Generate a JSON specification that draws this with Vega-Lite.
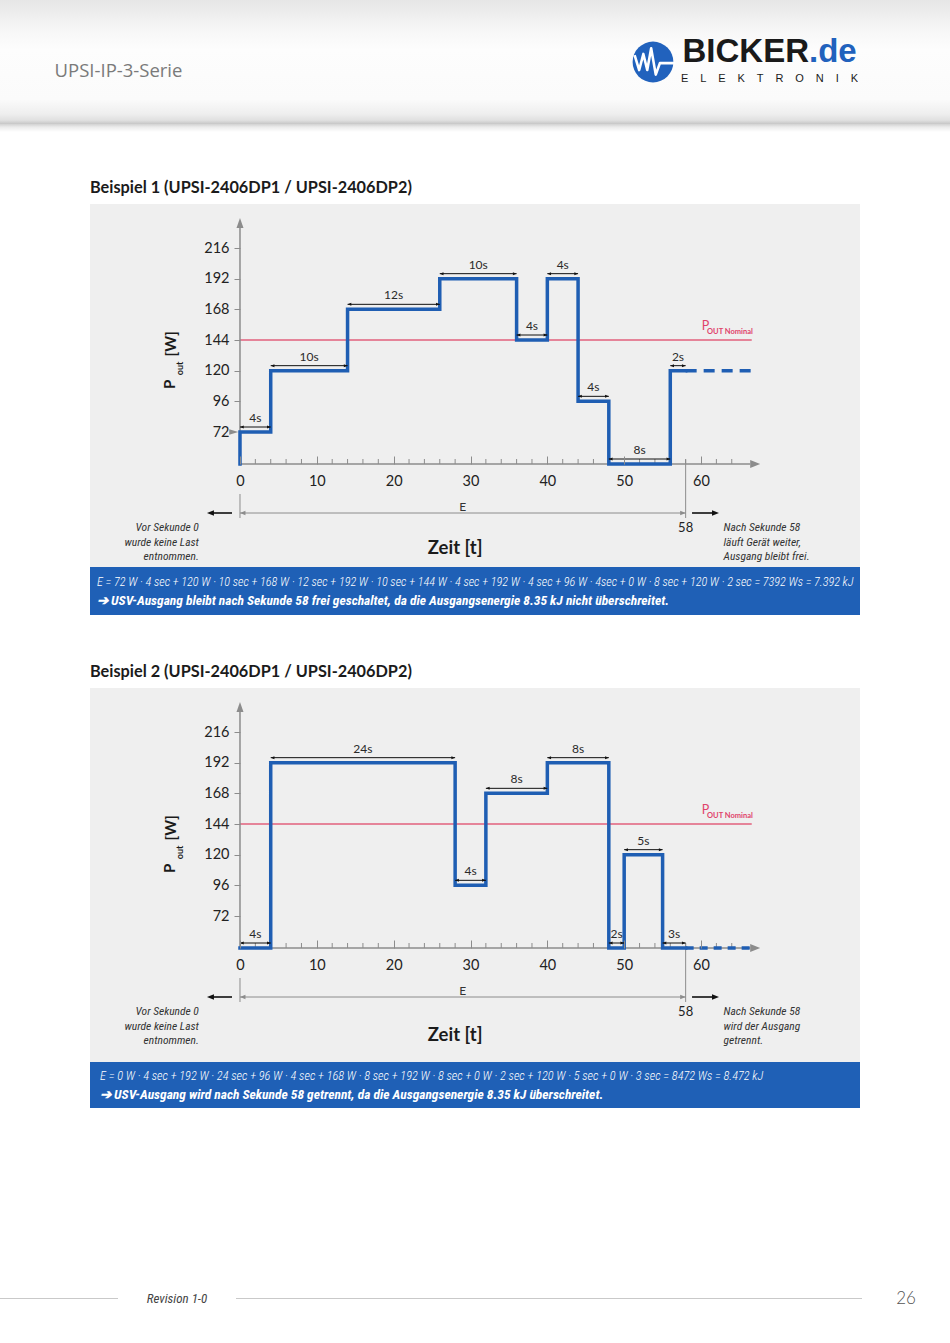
{
  "$schema": "https://vega.github.io/schema/vega-lite/v6.json",
  "background": "#ffffff",
  "padding": 0,
  "spacing": 0,
  "bounds": "flush",
  "center": false,
  "config": {"view": {"stroke": null}, "font": "Lato", "title": {"font": "Lato"}, "axisX": {"labelOverlap": false, "labelFlush": false, "labelBound": false}, "axisY": {"labelOverlap": false, "labelFlush": false, "labelBound": false}},
  "datasets": {
    "seg1": [
      {"id": 0, "start": 0, "end": 0, "p": 0, "label": ""},
      {"id": 1, "start": 0, "end": 4, "p": 72, "label": "4s"},
      {"id": 2, "start": 4, "end": 14, "p": 120, "label": "10s"},
      {"id": 3, "start": 14, "end": 26, "p": 168, "label": "12s"},
      {"id": 4, "start": 26, "end": 36, "p": 192, "label": "10s"},
      {"id": 5, "start": 36, "end": 40, "p": 144, "label": "4s"},
      {"id": 6, "start": 40, "end": 44, "p": 192, "label": "4s"},
      {"id": 7, "start": 44, "end": 48, "p": 96, "label": "4s"},
      {"id": 8, "start": 48, "end": 56, "p": 0, "label": "8s"},
      {"id": 9, "start": 56, "end": 58, "p": 120, "label": "2s"}
    ],
    "seg2": [
      {"id": 1, "start": 0, "end": 4, "p": 0, "label": "4s"},
      {"id": 2, "start": 4, "end": 28, "p": 192, "label": "24s"},
      {"id": 3, "start": 28, "end": 32, "p": 96, "label": "4s"},
      {"id": 4, "start": 32, "end": 40, "p": 168, "label": "8s"},
      {"id": 5, "start": 40, "end": 48, "p": 192, "label": "8s"},
      {"id": 6, "start": 48, "end": 50, "p": 0, "label": "2s"},
      {"id": 7, "start": 50, "end": 55, "p": 120, "label": "5s"},
      {"id": 8, "start": 55, "end": 58, "p": 0, "label": "3s"}
    ],
    "after1": [{"start": 58, "end": 66.6, "p": 120}],
    "after2": [{"start": 58, "end": 66.4, "p": 0}],
    "nominal": [{"start": 0, "end": 66.6, "p": 144}],
    "interval": [{"start": 0, "end": 58, "name": "E"}],
    "minor": [{"t": 2}, {"t": 4}, {"t": 6}, {"t": 8}, {"t": 12}, {"t": 14}, {"t": 16}, {"t": 18}, {"t": 22}, {"t": 24}, {"t": 26}, {"t": 28}, {"t": 32}, {"t": 34}, {"t": 36}, {"t": 38}, {"t": 42}, {"t": 44}, {"t": 46}, {"t": 48}, {"t": 52}, {"t": 54}, {"t": 56}, {"t": 58}, {"t": 62}, {"t": 64}]
  },
  "vconcat": [
    {
      "hconcat": [
        {"width": 237, "height": 124, "data": {"values": [{"series": "UPSI-IP-3-Serie"}]},
         "layer": [
           {"mark": {"type": "rect", "color": {"gradient": "linear", "x1": 0, "y1": 0, "x2": 0, "y2": 1, "stops": [{"offset": 0, "color": "#e6e6e6"}, {"offset": 0.25, "color": "#f7f7f7"}, {"offset": 0.4, "color": "#fdfdfd"}, {"offset": 0.8, "color": "#fbfbfb"}, {"offset": 0.92, "color": "#eeeeee"}, {"offset": 0.97, "color": "#e0e0e0"}, {"offset": 1, "color": "#c6c6c6"}]}}, "encoding": {}},
           {"mark": {"type": "text", "font": "Open Sans", "fontSize": 18.5, "color": "#7a7a7a", "baseline": "top", "align": "center"}, "encoding": {"text": {"field": "series"}}}
         ]},
        {"width": 393, "height": 124, "data": {"values": [{}]},
         "mark": {"type": "rect", "color": {"gradient": "linear", "x1": 0, "y1": 0, "x2": 0, "y2": 1, "stops": [{"offset": 0, "color": "#e6e6e6"}, {"offset": 0.25, "color": "#f7f7f7"}, {"offset": 0.4, "color": "#fdfdfd"}, {"offset": 0.8, "color": "#fbfbfb"}, {"offset": 0.92, "color": "#eeeeee"}, {"offset": 0.97, "color": "#e0e0e0"}, {"offset": 1, "color": "#c6c6c6"}]}}, "encoding": {}},
        {"width": 46, "height": 124, "data": {"values": [{"brand": "BICKER"}]},
         "layer": [
           {"mark": {"type": "rect", "color": {"gradient": "linear", "x1": 0, "y1": 0, "x2": 0, "y2": 1, "stops": [{"offset": 0, "color": "#e6e6e6"}, {"offset": 0.25, "color": "#f7f7f7"}, {"offset": 0.4, "color": "#fdfdfd"}, {"offset": 0.8, "color": "#fbfbfb"}, {"offset": 0.92, "color": "#eeeeee"}, {"offset": 0.97, "color": "#e0e0e0"}, {"offset": 1, "color": "#c6c6c6"}]}}, "encoding": {}},
           {"mark": {"type": "point", "shape": "circle", "size": 1662, "filled": true, "color": "#2162bd", "opacity": 1, "strokeWidth": 0}, "encoding": {}},
           {"mark": {"type": "point", "shape": "M-0.8,-0.3L-0.6,0.35L-0.42,-0.35L-0.25,0.35L-0.08,-0.6L0.12,0.55L0.3,0.05L0.98,0.05", "size": 2116, "filled": false, "stroke": "#ffffff", "strokeWidth": 2.6, "strokeJoin": "round", "opacity": 1}, "encoding": {}}
         ]},
        {"width": 84, "height": 124, "data": {"values": [{}]},
         "mark": {"type": "rect", "color": {"gradient": "linear", "x1": 0, "y1": 0, "x2": 0, "y2": 1, "stops": [{"offset": 0, "color": "#e6e6e6"}, {"offset": 0.25, "color": "#f7f7f7"}, {"offset": 0.4, "color": "#fdfdfd"}, {"offset": 0.8, "color": "#fbfbfb"}, {"offset": 0.92, "color": "#eeeeee"}, {"offset": 0.97, "color": "#e0e0e0"}, {"offset": 1, "color": "#c6c6c6"}]}}, "encoding": {}},
        {"width": 98, "height": 124, "data": {"values": [{"a": "BICKER", "b": ".de"}]},
         "title": {"text": "E\u2003\u200aL\u2003\u200aE\u2003\u200aK\u2003\u200aT\u2003\u200aR\u2003\u200aO\u2003\u200aN\u2003\u200aI\u2003\u200aK", "orient": "top", "anchor": "end", "frame": "group", "offset": -84, "font": "Liberation Sans", "fontSize": 11, "fontWeight": "normal", "color": "#1a1a1a"},
         "layer": [
           {"mark": {"type": "rect", "color": {"gradient": "linear", "x1": 0, "y1": 0, "x2": 0, "y2": 1, "stops": [{"offset": 0, "color": "#e6e6e6"}, {"offset": 0.25, "color": "#f7f7f7"}, {"offset": 0.4, "color": "#fdfdfd"}, {"offset": 0.8, "color": "#fbfbfb"}, {"offset": 0.92, "color": "#eeeeee"}, {"offset": 0.97, "color": "#e0e0e0"}, {"offset": 1, "color": "#c6c6c6"}]}}, "encoding": {}},
           {"mark": {"type": "text", "font": "Liberation Sans", "fontSize": 33, "fontWeight": "bold", "color": "#1a1a1a", "align": "right", "baseline": "alphabetic"}, "encoding": {"text": {"field": "a"}}},
           {"mark": {"type": "text", "font": "Liberation Sans", "fontSize": 33, "fontWeight": "bold", "color": "#2162bd", "align": "left", "baseline": "alphabetic"}, "encoding": {"text": {"field": "b"}}}
         ]},
        {"width": 92, "height": 124, "data": {"values": [{}]},
         "mark": {"type": "rect", "color": {"gradient": "linear", "x1": 0, "y1": 0, "x2": 0, "y2": 1, "stops": [{"offset": 0, "color": "#e6e6e6"}, {"offset": 0.25, "color": "#f7f7f7"}, {"offset": 0.4, "color": "#fdfdfd"}, {"offset": 0.8, "color": "#fbfbfb"}, {"offset": 0.92, "color": "#eeeeee"}, {"offset": 0.97, "color": "#e0e0e0"}, {"offset": 1, "color": "#c6c6c6"}]}}, "encoding": {}}
      ],
      "spacing": 0,
      "bounds": "flush"
    },
    {"width": 950, "height": 124, "data": {"values": []}, "mark": "point"},
    {
      "width": 950, "height": 8,
      "data": {"values": [{}]},
      "mark": {"type": "rect", "color": {"gradient": "linear", "x1": 0, "y1": 0, "x2": 0, "y2": 1, "stops": [{"offset": 0, "color": "#d2d2d2"}, {"offset": 0.4, "color": "#ececec"}, {"offset": 1, "color": "#ffffff"}]}},
      "encoding": {}
    },
    {"width": 950, "height": 72, "data": {"values": []}, "mark": "point"},
    {
      "hconcat": [
        {"width": 90, "height": 1, "data": {"values": []}, "mark": "point"},
        {
          "width": 770, "height": 363,
          "view": {"fill": "#efefef", "stroke": null},
          "title": {"text": "Beispiel 1 (UPSI-2406DP1 / UPSI-2406DP2)", "anchor": "start", "frame": "group", "orient": "top", "offset": 8, "font": "Lato", "fontSize": 16.3, "fontWeight": "bold", "color": "#1b1b1b"},
          "layer": [
            {"data": {"name": "nominal"}, "mark": {"type": "rule", "color": "#e2607c", "strokeWidth": 1.5},
             "encoding": {
               "x": {"field": "start", "type": "quantitative", "title": null,
                     "scale": {"domain": [-19.52, 80.69], "nice": false, "zero": false},
                     "axis": {"values": [0, 10, 20, 30, 40, 50, 60], "domain": false, "grid": false, "zindex": 1, "tickColor": "#8c8c8c", "tickWidth": 1, "tickSize": -8, "labelFont": "Lato", "labelFontSize": 14.5, "labelColor": "#222222", "labelPadding": 18, "labelOverlap": false, "labelFlush": false, "labelBound": false, "offset": -103}},
               "x2": {"field": "end"},
               "y": {"field": "p", "type": "quantitative", "title": null,
                     "scale": {"domain": [0, 72, 216], "range": [260, 228, 44], "nice": false, "zero": false},
                     "axis": {"values": [72,96,120,144,168,192,216], "domain": false, "grid": false, "zindex": 1, "tickColor": "#8c8c8c", "tickWidth": 1, "tickSize": 6, "tickOpacity": {"condition": {"test": "datum.value === 72", "value": 0}, "value": 1}, "labelFont": "Lato", "labelFontSize": 14.5, "labelColor": "#222222", "labelPadding": 5, "offset": -150}}
             }},
            {"data": {"values": [{}]}, "mark": {"type": "rule", "color": "#8c8c8c", "strokeWidth": 1.5},
             "encoding": {"x": {"datum": 0, "type": "quantitative", "title": null}, "y": {"datum": 0, "type": "quantitative", "title": null}, "y2": {"datum": 232}}},
            {"data": {"values": [{}]}, "mark": {"type": "point", "shape": "M0,-1L-0.7,1L0.7,1Z", "size": 100, "filled": true, "color": "#8c8c8c", "opacity": 1, "strokeWidth": 0},
             "encoding": {"x": {"datum": 0, "type": "quantitative", "title": null}, "y": {"datum": 235.6, "type": "quantitative", "title": null}}},
            {"data": {"values": [{}]}, "mark": {"type": "rule", "color": "#8c8c8c", "strokeWidth": 1.5},
             "encoding": {"x": {"datum": 0, "type": "quantitative", "title": null}, "x2": {"datum": 66.4}, "y": {"datum": 0, "type": "quantitative", "title": null}}},
            {"data": {"name": "minor"}, "mark": {"type": "rule", "color": "#8c8c8c", "strokeWidth": 1},
             "encoding": {"x": {"field": "t", "type": "quantitative", "title": null}, "y": {"datum": 0, "type": "quantitative", "title": null}, "y2": {"datum": 11.25}}},
            {"data": {"values": [{}]}, "mark": {"type": "point", "shape": "M1,0L-1,-0.8L-1,0.8Z", "size": 100, "filled": true, "color": "#8c8c8c", "opacity": 1, "strokeWidth": 0},
             "encoding": {"x": {"datum": 67.05, "type": "quantitative", "title": null}, "y": {"datum": 0, "type": "quantitative", "title": null}}},
            {"data": {"values": [{}]}, "mark": {"type": "point", "shape": "M1,0L-1,-0.6L-1,0.6Z", "size": 81, "filled": true, "color": "#8c8c8c", "opacity": 1, "strokeWidth": 0},
             "encoding": {"x": {"datum": -0.81, "type": "quantitative", "title": null}, "y": {"datum": 72, "type": "quantitative", "title": null}}},
            {"data": {"name": "interval"}, "mark": {"type": "rule", "color": "#8c8c8c", "strokeWidth": 1},
             "encoding": {"x": {"field": "start", "type": "quantitative", "title": null}, "y": {"datum": -67.5, "type": "quantitative", "title": null}, "y2": {"datum": -121.5}}},
            {"data": {"name": "interval"}, "mark": {"type": "rule", "color": "#8c8c8c", "strokeWidth": 1},
             "encoding": {"x": {"field": "end", "type": "quantitative", "title": null}, "y": {"datum": 10, "type": "quantitative", "title": null}, "y2": {"datum": -121.5}}},
            {"data": {"name": "interval"}, "mark": {"type": "rule", "color": "#8c8c8c", "strokeWidth": 1},
             "encoding": {"x": {"field": "start", "type": "quantitative", "title": null}, "x2": {"field": "end"}, "y": {"datum": -110.25, "type": "quantitative", "title": null}}},
            {"data": {"name": "interval"}, "transform": [{"fold": ["start", "end"], "as": ["k", "t"]}],
             "mark": {"type": "point", "filled": true, "size": 30, "color": "#8c8c8c", "opacity": 1, "strokeWidth": 0},
             "encoding": {"x": {"field": "t", "type": "quantitative", "title": null}, "y": {"datum": -110.25, "type": "quantitative", "title": null},
                          "shape": {"field": "k", "type": "nominal", "legend": null, "scale": {"domain": ["start", "end"], "range": ["M0,0L2,-0.8L2,0.8Z", "M0,0L-2,-0.8L-2,0.8Z"]}}}},
            {"data": {"name": "interval"}, "transform": [{"fold": ["start", "end"], "as": ["k", "t"]}],
             "mark": {"type": "text", "fontSize": 12, "color": "#333333", "baseline": "middle"},
             "encoding": {"x": {"aggregate": "mean", "field": "t", "type": "quantitative", "title": null}, "y": {"datum": -96.75, "type": "quantitative", "title": null}, "text": {"field": "name"}}},
            {"data": {"name": "interval"}, "mark": {"type": "text", "fontSize": 13, "color": "#222222", "baseline": "middle"},
             "encoding": {"x": {"field": "end", "type": "quantitative", "title": null}, "y": {"datum": -144, "type": "quantitative", "title": null}, "text": {"field": "end"}}},
            {"data": {"name": "after1"}, "mark": {"type": "rule", "color": "#1f5eb3", "strokeWidth": 3.5, "strokeDash": [11, 7]},
             "encoding": {"x": {"field": "start", "type": "quantitative", "title": null}, "x2": {"field": "end"}, "y": {"field": "p", "type": "quantitative", "title": null}}},
            {"data": {"name": "seg1"}, "transform": [{"fold": ["start", "end"], "as": ["k", "t"]}],
             "mark": {"type": "line", "color": "#1f5eb3", "strokeWidth": 3.5, "strokeJoin": "miter", "strokeCap": "square"},
             "encoding": {"x": {"field": "t", "type": "quantitative", "title": null}, "y": {"field": "p", "type": "quantitative", "title": null},
                          "order": [{"field": "id", "type": "quantitative"}, {"field": "t", "type": "quantitative"}]}},
            {"data": {"name": "seg1"}, "transform": [{"filter": "datum.label !== ''"}],
             "mark": {"type": "rule", "color": "#111111", "strokeWidth": 1, "yOffset": -5},
             "encoding": {"x": {"field": "start", "type": "quantitative", "title": null}, "x2": {"field": "end"}, "y": {"field": "p", "type": "quantitative", "title": null}}},
            {"data": {"name": "seg1"}, "transform": [{"filter": "datum.label !== ''"}, {"fold": ["start", "end"], "as": ["k", "t"]}],
             "mark": {"type": "point", "filled": true, "size": 14, "color": "#111111", "opacity": 1, "strokeWidth": 0, "yOffset": -5},
             "encoding": {"x": {"field": "t", "type": "quantitative", "title": null}, "y": {"field": "p", "type": "quantitative", "title": null},
                          "shape": {"field": "k", "type": "nominal", "legend": null, "scale": {"domain": ["start", "end"], "range": ["M0,0L2,-0.8L2,0.8Z", "M0,0L-2,-0.8L-2,0.8Z"]}}}},
            {"data": {"name": "seg1"}, "transform": [{"filter": "datum.label !== ''"}, {"fold": ["start", "end"], "as": ["k", "t"]}],
             "mark": {"type": "text", "fontSize": 12, "color": "#2a2a2a", "baseline": "middle", "yOffset": -14},
             "encoding": {"x": {"aggregate": "mean", "field": "t", "type": "quantitative", "title": null}, "y": {"field": "p", "type": "quantitative", "title": null}, "text": {"field": "label"}, "detail": {"field": "id"}}},
            {"data": {"name": "nominal"}, "mark": {"type": "text", "text": "P", "fontSize": 12.5, "color": "#e0436b", "align": "left", "baseline": "middle"},
             "encoding": {"x": {"datum": 60.09, "type": "quantitative", "title": null}, "y": {"datum": 154.6, "type": "quantitative", "title": null}}},
            {"data": {"name": "nominal"}, "mark": {"type": "text", "text": "OUT Nominal", "fontSize": 7.5, "fontWeight": "bold", "color": "#e0436b", "align": "left", "baseline": "middle"},
             "encoding": {"x": {"datum": 60.78, "type": "quantitative", "title": null}, "y": {"datum": 150.3, "type": "quantitative", "title": null}}},
            {"data": {"values": [{}]}, "mark": {"type": "text", "text": ["Vor Sekunde 0", "wurde keine Last", "entnommen."], "lineHeight": 14.5, "font": "Roboto Condensed, Liberation Sans Narrow, Lato", "fontStyle": "italic", "fontSize": 11.5, "color": "#333333", "align": "right", "baseline": "middle"},
             "encoding": {"x": {"datum": -5.35, "type": "quantitative", "title": null}, "y": {"datum": -144, "type": "quantitative", "title": null}}},
            {"data": {"values": [{}]}, "mark": {"type": "rule", "color": "#111111", "strokeWidth": 1.6},
             "encoding": {"x": {"datum": -1.04, "type": "quantitative", "title": null}, "x2": {"datum": -3.9}, "y": {"datum": -110.25, "type": "quantitative", "title": null}}},
            {"data": {"values": [{}]}, "mark": {"type": "point", "shape": "M0,0L2,-0.8L2,0.8Z", "size": 49, "filled": true, "color": "#111111", "opacity": 1, "strokeWidth": 0},
             "encoding": {"x": {"datum": -4.3, "type": "quantitative", "title": null}, "y": {"datum": -110.25, "type": "quantitative", "title": null}}},
            {"data": {"values": [{}]}, "mark": {"type": "text", "text": ["Nach Sekunde 58", "läuft Gerät weiter,", "Ausgang bleibt frei."], "lineHeight": 14.5, "font": "Roboto Condensed, Liberation Sans Narrow, Lato", "fontStyle": "italic", "fontSize": 11.5, "color": "#333333", "align": "left", "baseline": "middle"},
             "encoding": {"x": {"datum": 62.93, "type": "quantitative", "title": null}, "y": {"datum": -144, "type": "quantitative", "title": null}}},
            {"data": {"values": [{}]}, "mark": {"type": "rule", "color": "#111111", "strokeWidth": 1.6},
             "encoding": {"x": {"datum": 58.83, "type": "quantitative", "title": null}, "x2": {"datum": 61.95}, "y": {"datum": -110.25, "type": "quantitative", "title": null}}},
            {"data": {"values": [{}]}, "mark": {"type": "point", "shape": "M0,0L-2,-0.8L-2,0.8Z", "size": 49, "filled": true, "color": "#111111", "opacity": 1, "strokeWidth": 0},
             "encoding": {"x": {"datum": 62.34, "type": "quantitative", "title": null}, "y": {"datum": -110.25, "type": "quantitative", "title": null}}},
            {"data": {"values": [{}]}, "mark": {"type": "text", "text": "Zeit [t]", "fontSize": 18.5, "fontWeight": "bold", "color": "#1b1b1b", "align": "center", "baseline": "middle"},
             "encoding": {"x": {"datum": 28.0, "type": "quantitative", "title": null}, "y": {"datum": -189, "type": "quantitative", "title": null}}},
            {"data": {"values": [{}]}, "mark": {"type": "text", "text": "P", "angle": 270, "fontSize": 15, "fontWeight": "bold", "color": "#1b1b1b", "align": "center", "baseline": "middle"},
             "encoding": {"x": {"datum": -9.11, "type": "quantitative", "title": null}, "y": {"datum": 109.2, "type": "quantitative", "title": null}}},
            {"data": {"values": [{}]}, "mark": {"type": "text", "text": "out", "angle": 270, "fontSize": 9, "fontWeight": "bold", "color": "#1b1b1b", "align": "center", "baseline": "middle"},
             "encoding": {"x": {"datum": -7.87, "type": "quantitative", "title": null}, "y": {"datum": 121.7, "type": "quantitative", "title": null}}},
            {"data": {"values": [{}]}, "mark": {"type": "text", "text": "[W]", "angle": 270, "fontSize": 15, "fontWeight": "bold", "color": "#1b1b1b", "align": "center", "baseline": "middle"},
             "encoding": {"x": {"datum": -8.98, "type": "quantitative", "title": null}, "y": {"datum": 140.9, "type": "quantitative", "title": null}}}
          ]
        }
      ],
      "spacing": 0,
      "bounds": "flush"
    },
    {"width": 950, "height": 363, "data": {"values": []}, "mark": "point"},
    {
      "hconcat": [
        {"width": 90, "height": 1, "data": {"values": []}, "mark": "point"},
        {
          "width": 770, "height": 48,
          "data": {"values": []}, "mark": "point",
          "view": {"fill": "#1f60b6", "stroke": null},
          "title": {"text": "E = 72 W · 4 sec + 120 W · 10 sec + 168 W · 12 sec + 192 W · 10 sec + 144 W · 4 sec + 192 W · 4 sec + 96 W · 4sec + 0 W · 8 sec + 120 W · 2 sec = 7392 Ws = 7.392 kJ",
                    "subtitle": "➔ USV-Ausgang bleibt nach Sekunde 58 frei geschaltet, da die Ausgangsenergie 8.35 kJ nicht überschreitet.",
                    "orient": "bottom", "anchor": "start", "frame": "group", "offset": -39, "dx": 7, "limit": 0,
                    "font": "Roboto Condensed, Liberation Sans Narrow, Lato", "fontSize": 12.2, "fontStyle": "italic", "fontWeight": 300, "color": "#ffffff",
                    "subtitleFont": "Roboto Condensed, Liberation Sans Narrow, Lato", "subtitleFontSize": 13.5, "subtitleFontStyle": "italic", "subtitleFontWeight": "bold", "subtitleColor": "#ffffff", "subtitlePadding": 6}
        }
      ],
      "spacing": 0,
      "bounds": "flush"
    },
    {"width": 950, "height": 121, "data": {"values": []}, "mark": "point"},
    {
      "hconcat": [
        {"width": 90, "height": 1, "data": {"values": []}, "mark": "point"},
        {
          "width": 770, "height": 374,
          "view": {"fill": "#efefef", "stroke": null},
          "title": {"text": "Beispiel 2 (UPSI-2406DP1 / UPSI-2406DP2)", "anchor": "start", "frame": "group", "orient": "top", "offset": 8, "font": "Lato", "fontSize": 16.3, "fontWeight": "bold", "color": "#1b1b1b"},
          "layer": [
            {"data": {"name": "nominal"}, "mark": {"type": "rule", "color": "#e2607c", "strokeWidth": 1.5},
             "encoding": {
               "x": {"field": "start", "type": "quantitative", "title": null,
                     "scale": {"domain": [-19.52, 80.69], "nice": false, "zero": false},
                     "axis": {"values": [0, 10, 20, 30, 40, 50, 60], "domain": false, "grid": false, "zindex": 1, "tickColor": "#8c8c8c", "tickWidth": 1, "tickSize": -8, "labelFont": "Lato", "labelFontSize": 14.5, "labelColor": "#222222", "labelPadding": 18, "labelOverlap": false, "labelFlush": false, "labelBound": false, "offset": -114}},
               "x2": {"field": "end"},
               "y": {"field": "p", "type": "quantitative", "title": null,
                     "scale": {"domain": [0, 72, 216], "range": [260, 228, 44], "nice": false, "zero": false},
                     "axis": {"values": [72,96,120,144,168,192,216], "domain": false, "grid": false, "zindex": 1, "tickColor": "#8c8c8c", "tickWidth": 1, "tickSize": 6, "labelFont": "Lato", "labelFontSize": 14.5, "labelColor": "#222222", "labelPadding": 5, "offset": -150}}
             }},
            {"data": {"values": [{}]}, "mark": {"type": "rule", "color": "#8c8c8c", "strokeWidth": 1.5},
             "encoding": {"x": {"datum": 0, "type": "quantitative", "title": null}, "y": {"datum": 0, "type": "quantitative", "title": null}, "y2": {"datum": 232}}},
            {"data": {"values": [{}]}, "mark": {"type": "point", "shape": "M0,-1L-0.7,1L0.7,1Z", "size": 100, "filled": true, "color": "#8c8c8c", "opacity": 1, "strokeWidth": 0},
             "encoding": {"x": {"datum": 0, "type": "quantitative", "title": null}, "y": {"datum": 235.6, "type": "quantitative", "title": null}}},
            {"data": {"values": [{}]}, "mark": {"type": "rule", "color": "#8c8c8c", "strokeWidth": 1.5},
             "encoding": {"x": {"datum": 0, "type": "quantitative", "title": null}, "x2": {"datum": 66.4}, "y": {"datum": 0, "type": "quantitative", "title": null}}},
            {"data": {"name": "minor"}, "mark": {"type": "rule", "color": "#8c8c8c", "strokeWidth": 1},
             "encoding": {"x": {"field": "t", "type": "quantitative", "title": null}, "y": {"datum": 0, "type": "quantitative", "title": null}, "y2": {"datum": 11.25}}},
            {"data": {"values": [{}]}, "mark": {"type": "point", "shape": "M1,0L-1,-0.8L-1,0.8Z", "size": 100, "filled": true, "color": "#8c8c8c", "opacity": 1, "strokeWidth": 0},
             "encoding": {"x": {"datum": 67.05, "type": "quantitative", "title": null}, "y": {"datum": 0, "type": "quantitative", "title": null}}},
            {"data": {"name": "interval"}, "mark": {"type": "rule", "color": "#8c8c8c", "strokeWidth": 1},
             "encoding": {"x": {"field": "start", "type": "quantitative", "title": null}, "y": {"datum": -67.5, "type": "quantitative", "title": null}, "y2": {"datum": -121.5}}},
            {"data": {"name": "interval"}, "mark": {"type": "rule", "color": "#8c8c8c", "strokeWidth": 1},
             "encoding": {"x": {"field": "end", "type": "quantitative", "title": null}, "y": {"datum": 10, "type": "quantitative", "title": null}, "y2": {"datum": -121.5}}},
            {"data": {"name": "interval"}, "mark": {"type": "rule", "color": "#8c8c8c", "strokeWidth": 1},
             "encoding": {"x": {"field": "start", "type": "quantitative", "title": null}, "x2": {"field": "end"}, "y": {"datum": -110.25, "type": "quantitative", "title": null}}},
            {"data": {"name": "interval"}, "transform": [{"fold": ["start", "end"], "as": ["k", "t"]}],
             "mark": {"type": "point", "filled": true, "size": 30, "color": "#8c8c8c", "opacity": 1, "strokeWidth": 0},
             "encoding": {"x": {"field": "t", "type": "quantitative", "title": null}, "y": {"datum": -110.25, "type": "quantitative", "title": null},
                          "shape": {"field": "k", "type": "nominal", "legend": null, "scale": {"domain": ["start", "end"], "range": ["M0,0L2,-0.8L2,0.8Z", "M0,0L-2,-0.8L-2,0.8Z"]}}}},
            {"data": {"name": "interval"}, "transform": [{"fold": ["start", "end"], "as": ["k", "t"]}],
             "mark": {"type": "text", "fontSize": 12, "color": "#333333", "baseline": "middle"},
             "encoding": {"x": {"aggregate": "mean", "field": "t", "type": "quantitative", "title": null}, "y": {"datum": -96.75, "type": "quantitative", "title": null}, "text": {"field": "name"}}},
            {"data": {"name": "interval"}, "mark": {"type": "text", "fontSize": 13, "color": "#222222", "baseline": "middle"},
             "encoding": {"x": {"field": "end", "type": "quantitative", "title": null}, "y": {"datum": -144, "type": "quantitative", "title": null}, "text": {"field": "end"}}},
            {"data": {"name": "after2"}, "mark": {"type": "rule", "color": "#1f5eb3", "strokeWidth": 3.5, "strokeDash": [8, 6]},
             "encoding": {"x": {"field": "start", "type": "quantitative", "title": null}, "x2": {"field": "end"}, "y": {"field": "p", "type": "quantitative", "title": null}}},
            {"data": {"name": "seg2"}, "transform": [{"fold": ["start", "end"], "as": ["k", "t"]}],
             "mark": {"type": "line", "color": "#1f5eb3", "strokeWidth": 3.5, "strokeJoin": "miter", "strokeCap": "square"},
             "encoding": {"x": {"field": "t", "type": "quantitative", "title": null}, "y": {"field": "p", "type": "quantitative", "title": null},
                          "order": [{"field": "id", "type": "quantitative"}, {"field": "t", "type": "quantitative"}]}},
            {"data": {"name": "seg2"}, "transform": [{"filter": "datum.label !== ''"}],
             "mark": {"type": "rule", "color": "#111111", "strokeWidth": 1, "yOffset": -5},
             "encoding": {"x": {"field": "start", "type": "quantitative", "title": null}, "x2": {"field": "end"}, "y": {"field": "p", "type": "quantitative", "title": null}}},
            {"data": {"name": "seg2"}, "transform": [{"filter": "datum.label !== ''"}, {"fold": ["start", "end"], "as": ["k", "t"]}],
             "mark": {"type": "point", "filled": true, "size": 14, "color": "#111111", "opacity": 1, "strokeWidth": 0, "yOffset": -5},
             "encoding": {"x": {"field": "t", "type": "quantitative", "title": null}, "y": {"field": "p", "type": "quantitative", "title": null},
                          "shape": {"field": "k", "type": "nominal", "legend": null, "scale": {"domain": ["start", "end"], "range": ["M0,0L2,-0.8L2,0.8Z", "M0,0L-2,-0.8L-2,0.8Z"]}}}},
            {"data": {"name": "seg2"}, "transform": [{"filter": "datum.label !== ''"}, {"fold": ["start", "end"], "as": ["k", "t"]}],
             "mark": {"type": "text", "fontSize": 12, "color": "#2a2a2a", "baseline": "middle", "yOffset": -14},
             "encoding": {"x": {"aggregate": "mean", "field": "t", "type": "quantitative", "title": null}, "y": {"field": "p", "type": "quantitative", "title": null}, "text": {"field": "label"}, "detail": {"field": "id"}}},
            {"data": {"name": "nominal"}, "mark": {"type": "text", "text": "P", "fontSize": 12.5, "color": "#e0436b", "align": "left", "baseline": "middle"},
             "encoding": {"x": {"datum": 60.09, "type": "quantitative", "title": null}, "y": {"datum": 154.6, "type": "quantitative", "title": null}}},
            {"data": {"name": "nominal"}, "mark": {"type": "text", "text": "OUT Nominal", "fontSize": 7.5, "fontWeight": "bold", "color": "#e0436b", "align": "left", "baseline": "middle"},
             "encoding": {"x": {"datum": 60.78, "type": "quantitative", "title": null}, "y": {"datum": 150.3, "type": "quantitative", "title": null}}},
            {"data": {"values": [{}]}, "mark": {"type": "text", "text": ["Vor Sekunde 0", "wurde keine Last", "entnommen."], "lineHeight": 14.5, "font": "Roboto Condensed, Liberation Sans Narrow, Lato", "fontStyle": "italic", "fontSize": 11.5, "color": "#333333", "align": "right", "baseline": "middle"},
             "encoding": {"x": {"datum": -5.35, "type": "quantitative", "title": null}, "y": {"datum": -144, "type": "quantitative", "title": null}}},
            {"data": {"values": [{}]}, "mark": {"type": "rule", "color": "#111111", "strokeWidth": 1.6},
             "encoding": {"x": {"datum": -1.04, "type": "quantitative", "title": null}, "x2": {"datum": -3.9}, "y": {"datum": -110.25, "type": "quantitative", "title": null}}},
            {"data": {"values": [{}]}, "mark": {"type": "point", "shape": "M0,0L2,-0.8L2,0.8Z", "size": 49, "filled": true, "color": "#111111", "opacity": 1, "strokeWidth": 0},
             "encoding": {"x": {"datum": -4.3, "type": "quantitative", "title": null}, "y": {"datum": -110.25, "type": "quantitative", "title": null}}},
            {"data": {"values": [{}]}, "mark": {"type": "text", "text": ["Nach Sekunde 58", "wird der Ausgang", "getrennt."], "lineHeight": 14.5, "font": "Roboto Condensed, Liberation Sans Narrow, Lato", "fontStyle": "italic", "fontSize": 11.5, "color": "#333333", "align": "left", "baseline": "middle"},
             "encoding": {"x": {"datum": 62.93, "type": "quantitative", "title": null}, "y": {"datum": -144, "type": "quantitative", "title": null}}},
            {"data": {"values": [{}]}, "mark": {"type": "rule", "color": "#111111", "strokeWidth": 1.6},
             "encoding": {"x": {"datum": 58.83, "type": "quantitative", "title": null}, "x2": {"datum": 61.95}, "y": {"datum": -110.25, "type": "quantitative", "title": null}}},
            {"data": {"values": [{}]}, "mark": {"type": "point", "shape": "M0,0L-2,-0.8L-2,0.8Z", "size": 49, "filled": true, "color": "#111111", "opacity": 1, "strokeWidth": 0},
             "encoding": {"x": {"datum": 62.34, "type": "quantitative", "title": null}, "y": {"datum": -110.25, "type": "quantitative", "title": null}}},
            {"data": {"values": [{}]}, "mark": {"type": "text", "text": "Zeit [t]", "fontSize": 18.5, "fontWeight": "bold", "color": "#1b1b1b", "align": "center", "baseline": "middle"},
             "encoding": {"x": {"datum": 28.0, "type": "quantitative", "title": null}, "y": {"datum": -196, "type": "quantitative", "title": null}}},
            {"data": {"values": [{}]}, "mark": {"type": "text", "text": "P", "angle": 270, "fontSize": 15, "fontWeight": "bold", "color": "#1b1b1b", "align": "center", "baseline": "middle"},
             "encoding": {"x": {"datum": -9.11, "type": "quantitative", "title": null}, "y": {"datum": 109.2, "type": "quantitative", "title": null}}},
            {"data": {"values": [{}]}, "mark": {"type": "text", "text": "out", "angle": 270, "fontSize": 9, "fontWeight": "bold", "color": "#1b1b1b", "align": "center", "baseline": "middle"},
             "encoding": {"x": {"datum": -7.87, "type": "quantitative", "title": null}, "y": {"datum": 121.7, "type": "quantitative", "title": null}}},
            {"data": {"values": [{}]}, "mark": {"type": "text", "text": "[W]", "angle": 270, "fontSize": 15, "fontWeight": "bold", "color": "#1b1b1b", "align": "center", "baseline": "middle"},
             "encoding": {"x": {"datum": -8.98, "type": "quantitative", "title": null}, "y": {"datum": 140.9, "type": "quantitative", "title": null}}}
          ]
        }
      ],
      "spacing": 0,
      "bounds": "flush"
    },
    {"width": 950, "height": 374, "data": {"values": []}, "mark": "point"},
    {
      "hconcat": [
        {"width": 90, "height": 1, "data": {"values": []}, "mark": "point"},
        {
          "width": 770, "height": 46,
          "data": {"values": []}, "mark": "point",
          "view": {"fill": "#1f60b6", "stroke": null},
          "title": {"text": "E = 0 W · 4 sec + 192 W · 24 sec + 96 W · 4 sec + 168 W · 8 sec + 192 W · 8 sec + 0 W · 2 sec + 120 W · 5 sec + 0 W · 3 sec = 8472 Ws = 8.472 kJ",
                    "subtitle": "➔ USV-Ausgang wird nach Sekunde 58 getrennt, da die Ausgangsenergie 8.35 kJ überschreitet.",
                    "orient": "bottom", "anchor": "start", "frame": "group", "offset": -38, "dx": 10, "limit": 0,
                    "font": "Roboto Condensed, Liberation Sans Narrow, Lato", "fontSize": 12.3, "fontStyle": "italic", "fontWeight": 300, "color": "#ffffff",
                    "subtitleFont": "Roboto Condensed, Liberation Sans Narrow, Lato", "subtitleFontSize": 13.5, "subtitleFontStyle": "italic", "subtitleFontWeight": "bold", "subtitleColor": "#ffffff", "subtitlePadding": 6}
        }
      ],
      "spacing": 0,
      "bounds": "flush"
    },
    {"width": 950, "height": 236, "data": {"values": []}, "mark": "point"},
    {
      "hconcat": [
        {"width": 118, "height": 1, "data": {"values": [{}]}, "mark": {"type": "rect", "color": "#c9c9c9"}, "encoding": {}},
        {"width": 118, "height": 1, "data": {"values": [{"rev": "Revision 1-0"}]},
         "mark": {"type": "text", "font": "Roboto Condensed, Liberation Sans Narrow, Lato", "fontStyle": "italic", "fontSize": 13, "color": "#444444", "align": "center", "baseline": "middle"},
         "encoding": {"text": {"field": "rev"}}},
        {"width": 626, "height": 1, "data": {"values": [{}]}, "mark": {"type": "rect", "color": "#c9c9c9"}, "encoding": {}},
        {"width": 88, "height": 1, "data": {"values": [{"page": "26"}]},
         "mark": {"type": "text", "font": "Lato", "fontWeight": 300, "fontSize": 17, "color": "#555555", "align": "center", "baseline": "middle"},
         "encoding": {"text": {"field": "page"}}}
      ],
      "spacing": 0,
      "bounds": "flush"
    },
    {"width": 950, "height": 45, "data": {"values": []}, "mark": "point"}
  ]
}
